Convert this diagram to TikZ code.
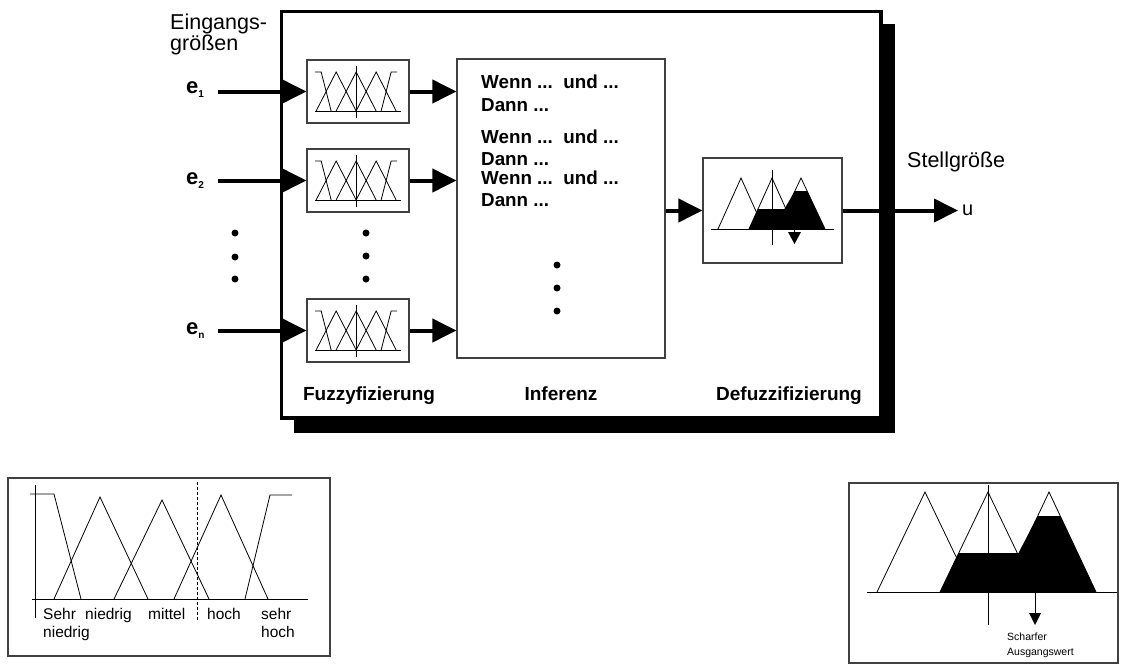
\documentclass[tikz,border=0pt]{standalone}
\usepackage{fontspec}
\setmainfont{Liberation Sans}
\usetikzlibrary{arrows.meta}
\begin{document}
\begin{tikzpicture}[x=1pt,y=-1pt,
  grayframe/.style={draw=black!75, line width=1.1pt, fill=white, inner sep=0pt},
  fbox/.style={grayframe, minimum width=102pt, minimum height=63pt},
  ibox/.style={grayframe, minimum width=208pt, minimum height=299pt},
  dbox/.style={grayframe, minimum width=139pt, minimum height=105pt},
  thinline/.style={line width=0.8pt},
  bigarrow/.style={line width=4pt, -{Triangle[length=24pt,width=23pt]}},
  dot/.style={circle, fill=black, inner sep=0pt, minimum size=7pt},
  blbl/.style={font=\fontsize{19}{22}\selectfont\bfseries, anchor=base, inner sep=0pt},
  rule/.style={font=\fontsize{18.8}{21}\selectfont\bfseries, anchor=base west, inner sep=0pt},
  big/.style={font=\fontsize{21.5}{25}\selectfont, anchor=base west, inner sep=0pt},
  elbl/.style={font=\fontsize{22}{24}\selectfont\bfseries, anchor=base west, inner sep=0pt},
  plbl/.style={font=\fontsize{15.5}{18}\selectfont, anchor=base west, inner sep=0pt},
  slbl/.style={font=\fontsize{10.5}{12}\selectfont, anchor=base west, inner sep=0pt},
  fuzzyicon/.pic={
    \draw[thinline] (9,51.5) -- (95,51.5);
    \draw[thinline] (50,7) -- (50,59);
    \draw[thinline] (8.7,12.5) -- (14.7,12.5) -- (24.7,51.5);
    \draw[thinline] (9.7,51.5) -- (29.7,12.5) -- (49.7,51.5);
    \draw[thinline] (29.7,51.5) -- (49.7,12.5) -- (69.7,51.5);
    \draw[thinline] (49.7,51.5) -- (69.7,12.5) -- (89.7,51.5);
    \draw[thinline] (74.7,51.5) -- (84.7,12.5) -- (90.7,12.5);
  }
]
\useasboundingbox (0,0) rectangle (1125,665);

% main system frame with shadow
\fill[black] (294,24) rectangle (895,433);
\draw[line width=3.5pt, fill=white] (281.5,11.5) rectangle (881,418);

% labels of inputs / outputs
\node[big] (eing1) at (170,29) {Eingangs-};
\node[big] (eing2) at (170,50) {größen};
\node[big] (stell) at (907,167) {Stellgröße};

% fuzzification boxes
\node[fbox] (fz1) at (358,91.5) {};
\node[fbox] (fz2) at (358,180.5) {};
\node[fbox] (fz3) at (358,330.5) {};
\pic at (fz1.north west) {fuzzyicon};
\pic at (fz2.north west) {fuzzyicon};
\pic at (fz3.north west) {fuzzyicon};

% inference box
\node[ibox] (inf) at (561,208.5) {};
\node[rule] (r1a) at (481,88) {Wenn ...\ \ und ...};
\node[rule] (r1b) at (481,111) {Dann ...};
\node[rule] (r2a) at (481,143) {Wenn ...\ \ und ...};
\node[rule] (r2b) at (481,165) {Dann ...};
\node[rule] (r3a) at (481,184) {Wenn ...\ \ und ...};
\node[rule] (r3b) at (481,206) {Dann ...};

% defuzzification box
\node[dbox] (df) at (772.5,210.5) {};
\fill[black] (749,229) -- (758,209) -- (784.4,209) -- (794.9,191) -- (807.1,191) -- (825,229) -- cycle;
\draw[thinline] (718,229) -- (741,178) -- (764,229);
\draw[thinline] (749,229) -- (772,178) -- (795,229);
\draw[thinline] (777,229) -- (801,178) -- (825,229);
\draw[thinline] (711,229) -- (834,229);
\draw[thinline] (772,170) -- (772,245);
\draw[thinline] (794.5,229) -- (794.5,233);
\fill[black] (788,232) -- (801,232) -- (794.5,244) -- cycle;

% input labels
\node[elbl] (e1) at (186,93) {e\raisebox{-4pt}{\fontsize{10}{10}\selectfont 1}};
\node[elbl] (e2) at (186,184) {e\raisebox{-4pt}{\fontsize{10}{10}\selectfont 2}};
\node[elbl] (en) at (186,334) {e\raisebox{-4pt}{\fontsize{10}{10}\selectfont n}};
\coordinate (in1) at (218,91.5);
\coordinate (in2) at (218,180.5);
\coordinate (in3) at (218,330.5);
\coordinate (out) at (958,210.5);

% connectors
\draw[bigarrow] (in1) -- (fz1.west |- in1);
\draw[bigarrow] (in2) -- (fz2.west |- in2);
\draw[bigarrow] (in3) -- (fz3.west |- in3);
\draw[bigarrow] (fz1.east) -- (inf.west |- fz1.east);
\draw[bigarrow] (fz2.east) -- (inf.west |- fz2.east);
\draw[bigarrow] (fz3.east) -- (inf.west |- fz3.east);
\draw[bigarrow] (inf.east |- df.west) -- (df.west);
\draw[bigarrow] (df.east) -- (out);
\node[big, font=\fontsize{20}{24}\selectfont] (u) at (962,215) {u};

% ellipsis dots
\node[dot] (d1) at (235,233) {};
\node[dot] (d2) at (235,257) {};
\node[dot] (d3) at (235,279) {};
\node[dot] (d4) at (366,233) {};
\node[dot] (d5) at (366,256) {};
\node[dot] (d6) at (366,279) {};
\node[dot] (d7) at (557,265) {};
\node[dot] (d8) at (557,288) {};
\node[dot] (d9) at (557,311) {};

% stage names
\node[blbl] (lf) at (369,400.5) {Fuzzyfizierung};
\node[blbl] (li) at (561,400.5) {Inferenz};
\node[blbl] (ld) at (789,400.5) {Defuzzifizierung};

% bottom-left panel: membership functions
\draw[draw=black!75, line width=1.1pt] (8,478) rectangle (330,656);
\draw[thinline] (35,485) -- (35,618);
\draw[thinline] (32,599) -- (308,599);
\draw[thinline] (30,494) -- (54,494) -- (81,599);
\draw[thinline] (54,599) -- (100,497) -- (148,599);
\draw[thinline] (114,599) -- (162,500) -- (209,599);
\draw[thinline] (174,599) -- (221,495) -- (268,599);
\draw[thinline] (245,599) -- (270,495) -- (292,495);
\draw[thinline, dash pattern=on 3pt off 2pt] (197,482) -- (197,620);
\node[plbl] (p1) at (43,619) {Sehr};
\node[plbl] (p2) at (85,619) {niedrig};
\node[plbl] (p3) at (148,619) {mittel};
\node[plbl] (p4) at (207,619) {hoch};
\node[plbl] (p5) at (261,619) {sehr};
\node[plbl] (p6) at (43,637) {niedrig};
\node[plbl] (p7) at (261,637) {hoch};

% bottom-right panel: defuzzification detail
\draw[draw=black!75, line width=1.1pt] (849,483) rectangle (1118,663);
\fill[black] (940,592) -- (958.7,553) -- (1018.5,553) -- (1037.7,516) -- (1060.3,516) -- (1096,592) -- cycle;
\draw[thinline] (877,592) -- (925,492) -- (973,592);
\draw[thinline] (940,592) -- (988,492) -- (1036,592);
\draw[thinline] (1002,592) -- (1049,492) -- (1096,592);
\draw[thinline] (867,592) -- (1117,592);
\draw[thinline] (988,485) -- (988,625);
\draw[thinline] (1035,592) -- (1035,614);
\fill[black] (1029,613) -- (1041,613) -- (1035,625) -- cycle;
\node[slbl] (s1) at (1007,640) {Scharfer};
\node[slbl] (s2) at (1007,655) {Ausgangswert};
\end{tikzpicture}
\end{document}
